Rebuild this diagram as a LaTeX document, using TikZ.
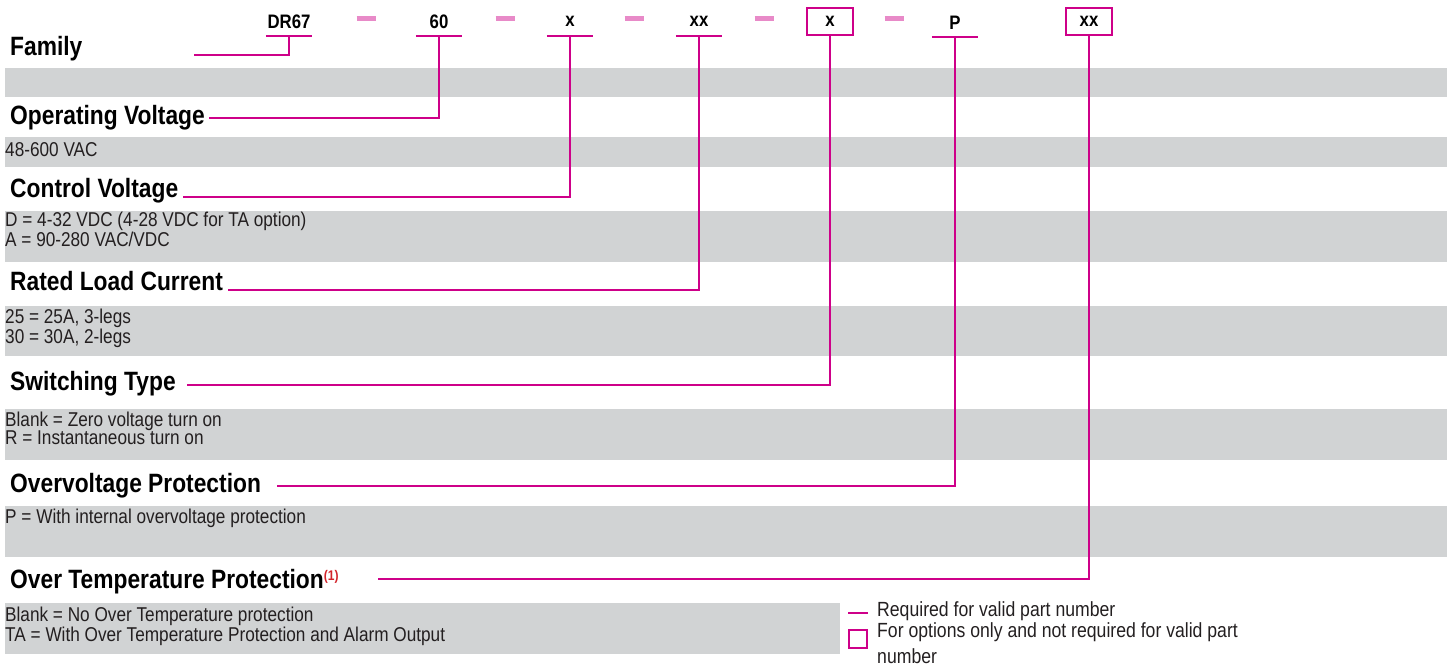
\documentclass[tikz,border=0pt]{standalone}
\usepackage{fontspec}
\setmainfont{Liberation Sans}[FakeStretch=0.86]
\usetikzlibrary{positioning}
\definecolor{magline}{RGB}{206,0,137}
\definecolor{magdash}{RGB}{232,138,200}
\definecolor{bandgray}{RGB}{209,211,212}
\definecolor{noteRed}{RGB}{210,35,42}
\definecolor{bodyText}{RGB}{35,31,32}

\begin{document}
\begin{tikzpicture}[x=1pt,y=-1pt,
  pink line/.style={draw=magline,line width=2.6pt},
  dash mark/.style={draw=magdash,line width=5pt},
  code node/.style={inner sep=0pt,minimum width=46pt,minimum height=29pt,anchor=south,
    font=\fontsize{19.5}{20}\selectfont\bfseries},
  opt node/.style={code node,draw=magline,line width=2.6pt,minimum height=27pt},
  head node/.style={anchor=base west,inner sep=0pt,font=\fontsize{26.5}{28}\selectfont\bfseries},
  text node/.style={anchor=north west,inner sep=0pt,align=left,text=bodyText,
    font=\fontsize{20}{18}\selectfont},
  band/.style={fill=bandgray}]
  \useasboundingbox (0,0) rectangle (1447,671);

  % grey bands
  \foreach \top/\bot in {68/97,137/167,211/262,306/356,409/460,506/557}
    \fill[band] (5,\top) rectangle (1447,\bot);
  \fill[band] (5,603) rectangle (840,654);

  % part number
  \node[code node] (dr) at (289,36) {DR67};
  \node[code node] (volt) at (439,36) {60};
  \node[code node] (ctrl) at (570,36) {x};
  \node[code node] (amps) at (699,36) {xx};
  \node[opt node] (sw) at (830,36.5) {x};
  \node[code node] (ovp) at (955,37) {P};
  \node[opt node] (otp) at (1089,36.5) {xx};
  \foreach \n in {dr,volt,ctrl,amps,ovp}
    \draw[pink line] (\n.south west) -- (\n.south east);
  \foreach \x in {366,505,634,764,894}
    \draw[dash mark] (\x-9.5,19) -- (\x+9.5,19);

  % headings
  \node[head node] (famHead) at (10,56) {Family};
  \node[head node] (voltHead) at (10,125) {Operating Voltage};
  \node[head node] (ctrlHead) at (10,197) {Control Voltage};
  \node[head node] (ampsHead) at (10,290) {Rated Load Current};
  \node[head node] (swHead) at (10,390) {Switching Type};
  \node[head node] (ovpHead) at (10,492) {Overvoltage Protection};
  \node[head node] (otpHead) at (10,588) {Over Temperature Protection\raisebox{8pt}{\fontsize{14}{14}\selectfont\color{noteRed}(1)}};

  % options
  \node[text node] (voltText) at (5,142) {48-600 VAC};
  \node[text node] (ctrlText) at (5,212) {D = 4-32 VDC (4-28 VDC for TA option)\\A = 90-280 VAC/VDC};
  \node[text node] (ampsText) at (5,309) {25 = 25A, 3-legs\\30 = 30A, 2-legs};
  \node[text node] (swText) at (5,412) {Blank = Zero voltage turn on\\R = Instantaneous turn on};
  \node[text node] (ovpText) at (5,509) {P = With internal overvoltage protection};
  \node[text node,font=\fontsize{20}{16.5}\selectfont] (otpText) at (5,607) {Blank = No Over Temperature protection\\TA = With Over Temperature Protection and Alarm Output};

  % leaders
  \coordinate (famStart) at (194,55);
  \coordinate (voltStart) at (209,118);
  \coordinate (ctrlStart) at (183,197);
  \coordinate (ampsStart) at (228,290);
  \coordinate (swStart) at (187,385);
  \coordinate (ovpStart) at (277,486);
  \coordinate (otpStart) at (378,579);
  \draw[pink line] (famStart) -| (dr.south);
  \draw[pink line] (voltStart) -| (volt.south);
  \draw[pink line] (ctrlStart) -| (ctrl.south);
  \draw[pink line] (ampsStart) -| (amps.south);
  \draw[pink line] (swStart) -| (sw.south);
  \draw[pink line] (ovpStart) -| (ovp.south);
  \draw[pink line] (otpStart) -| (otp.south);

  % legend
  \draw[pink line] (848,613) -- (868,613);
  \draw[pink line] (849,630) rectangle (867,648);
  \node[text node,anchor=base west,font=\fontsize{20.5}{20}\selectfont] (reqNote) at (877,616) {Required for valid part number};
  \node[text node,anchor=base west,font=\fontsize{20.5}{20}\selectfont] (optNote) at (877,637) {For options only and not required for valid part};
  \node[text node,anchor=base west,font=\fontsize{20.5}{20}\selectfont] (optNote2) at (877,663) {number};
\end{tikzpicture}
\end{document}
